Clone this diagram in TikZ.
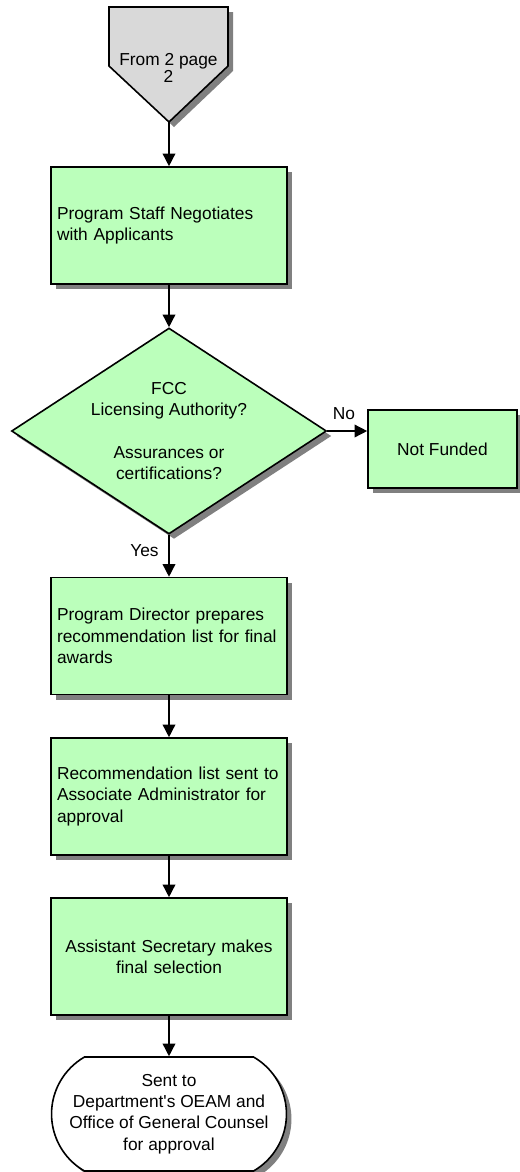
\documentclass[tikz,border=0pt]{standalone}
\usepackage{fontspec}
\setmainfont{Liberation Sans}[Ligatures = TeXOff]
\usetikzlibrary{arrows.meta, shapes.geometric, shapes.misc, shadows}

\definecolor{boxgreen}{RGB}{187, 255, 187}
\definecolor{connectorgray}{RGB}{217, 217, 217}
\definecolor{shadowgray}{RGB}{128, 128, 128}

\begin{document}
\begin{tikzpicture}[x = 0.75pt, y = -0.75pt,
    every node/.style = {font = \fontsize{13}{16}\selectfont},
    shadowed/.style = {drop shadow = {shadow xshift = 3.75pt, shadow yshift = -3.75pt, fill = shadowgray, opacity = 1}},
    stepbox/.style = {rectangle, draw, line width = 1.2pt, fill = boxgreen, shadowed,
        text width = 168pt, inner sep = 4.5pt, minimum width = 177pt, minimum height = 87.75pt, align = left},
    flow/.style = {line width = 1.1pt, -{Triangle[width = 9.5pt, length = 9.5pt]}}]
    \useasboundingbox (0, 0) rectangle (519, 1172);

    % off-page connector
    \fill[shadowgray, shift = {(5, 5)}] (109, 7) -- (228, 7) -- (228, 66) -- (169, 122) -- (109, 66) -- cycle;
    \draw[line width = 1.2pt, fill = connectorgray] (109, 7) -- (228, 7) -- (228, 66) -- (169, 122) -- (109, 66) -- cycle;
    \node[align = center, font = \fontsize{13}{11.5}\selectfont] (from) at (168.5, 68) {From 2 page\\2};
    \coordinate (fromtip) at (169, 122);

    \node[stepbox] (negot) at (169, 225.5) {Program Staff Negotiates\\with Applicants};

    % decision
    \node[diamond, draw, line width = 1.2pt, fill = boxgreen, shadowed, inner sep = 0,
        minimum width = 236.25pt, minimum height = 154.5pt] (fcc) at (169, 431) {};
    \node[align = center] (fcctext) at (fcc.center) {FCC\\Licensing Authority?\\~\\Assurances or\\certifications?};

    \node[rectangle, draw, line width = 1.2pt, fill = boxgreen, shadowed,
        minimum width = 111.75pt, minimum height = 58.5pt] (notfunded) at (442.5, 449) {Not Funded};

    \node[stepbox] (director) at (169, 636) {Program Director prepares\\recommendation list for final\\awards};
    \node[stepbox] (assoc) at (169, 796.5) {Recommendation list sent to\\Associate Administrator for\\approval};
    \node[stepbox, align = center] (select) at (169, 956.5) {Assistant Secretary makes\\final selection};

    % terminator
    \node[rounded rectangle, rounded rectangle arc length = 120, draw, line width = 1.2pt, fill = white, shadowed,
        minimum width = 172.5pt, minimum height = 85.5pt, align = center] (oeam) at (169, 1114)
        {Sent to\\Department's OEAM and\\Office of General Counsel\\for approval};

    \draw[flow] (fromtip) -- (negot.north);
    \draw[flow] (negot.south) -- (fcc.north);
    \draw[flow] (fcc.east) -- (fcc.east -| notfunded.west);
    \draw[flow] (fcc.south) -- (director.north);
    \draw[flow] (director.south) -- (assoc.north);
    \draw[flow] (assoc.south) -- (select.north);
    \draw[flow] (select.south) -- (oeam.north);

    \node[anchor = base] (no) at (344, 419) {No};
    \node[anchor = base] (yes) at (144.5, 556) {Yes};
\end{tikzpicture}
\end{document}
